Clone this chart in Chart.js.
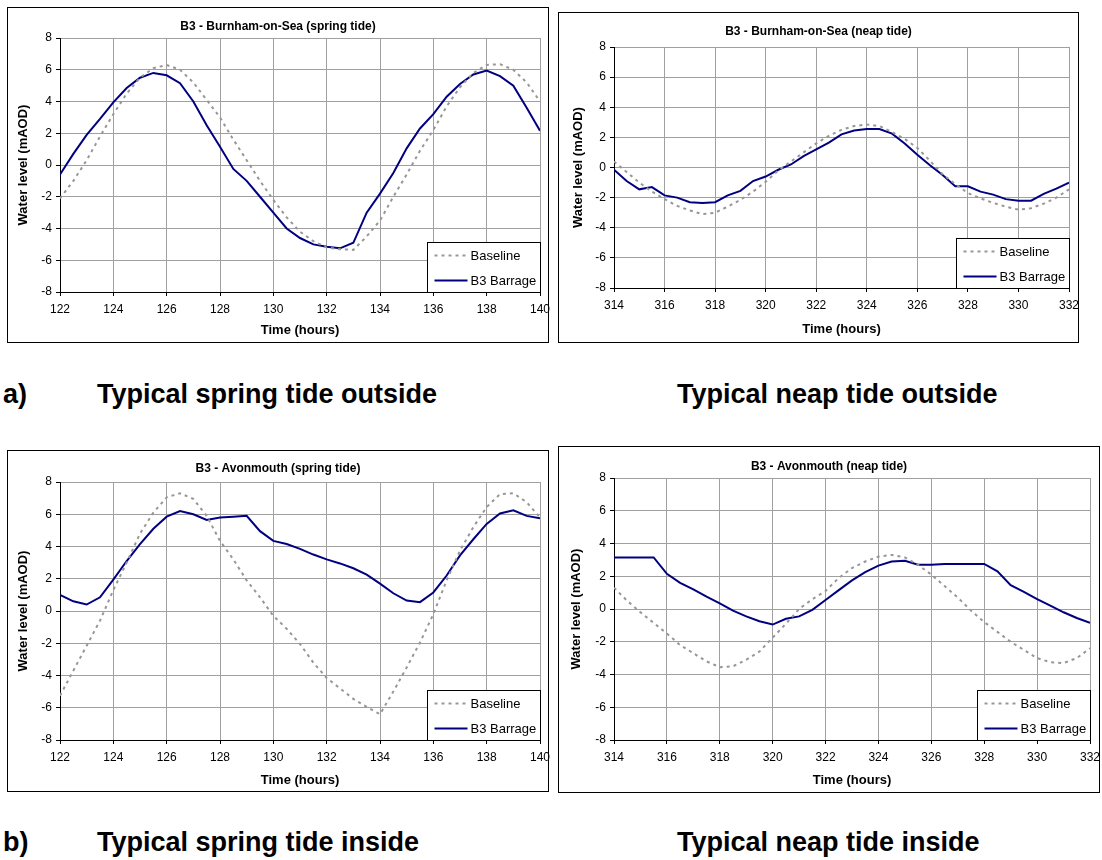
<!DOCTYPE html>
<html>
<head>
<meta charset="utf-8">
<script src="https://cdn.jsdelivr.net/npm/chart.js@4.4.1/dist/chart.umd.min.js"></script>
<style>
  html, body { margin: 0; padding: 0; background: #fff; }
  #page { position: relative; width: 1102px; height: 860px; background: #fff; overflow: hidden; }
  .box { position: absolute; border: 1px solid #000; box-sizing: border-box; background: #fff; }
  canvas { position: absolute; }
  .cap { position: absolute; font-family: "Liberation Sans", Arial, sans-serif; font-weight: bold; font-size: 27px; line-height: 27px; color: #000; white-space: nowrap; }
</style>
</head>
<body>
<div id="page">
  <div class="cap" style="left:3px;top:381px;">a)</div>
  <div class="cap" style="left:97px;top:381px;">Typical spring tide outside</div>
  <div class="cap" style="left:677px;top:381px;">Typical neap tide outside</div>
  <div class="cap" style="left:3px;top:829px;">b)</div>
  <div class="cap" style="left:97px;top:829px;">Typical spring tide inside</div>
  <div class="cap" style="left:677px;top:829px;">Typical neap tide inside</div>
</div>
<script>
// ---------------- DATA ----------------
const springHours = [122,122.5,123,123.5,124,124.5,125,125.5,126,126.5,127,127.5,128,128.5,129,129.5,130,130.5,131,131.5,132,132.5,133,133.5,134,134.5,135,135.5,136,136.5,137,137.5,138,138.5,139,139.5,140];
const neapHours = [314,314.5,315,315.5,316,316.5,317,317.5,318,318.5,319,319.5,320,320.5,321,321.5,322,322.5,323,323.5,324,324.5,325,325.5,326,326.5,327,327.5,328,328.5,329,329.5,330,330.5,331,331.5,332];

const springTicks = [122,124,126,128,130,132,134,136,138,140];
const neapTicks = [314,316,318,320,322,324,326,328,330,332];
const levelTicks = [-8,-6,-4,-2,0,2,4,6,8];

const seriesNames = ["Baseline", "B3 Barrage"];

const burnSpringBaseline = [-2.1,-1.0,0.3,1.8,3.2,4.5,5.5,6.1,6.3,6.0,5.2,4.1,3.0,1.6,0.3,-1.0,-2.2,-3.3,-4.2,-4.8,-5.2,-5.3,-5.35,-4.5,-3.5,-2.0,-0.6,0.9,2.2,3.7,4.9,5.8,6.3,6.35,6.0,5.2,4.0];
const burnSpringBarrage  = [-0.6,0.7,1.9,2.9,3.95,4.85,5.5,5.8,5.65,5.15,4.0,2.5,1.15,-0.25,-1.0,-2.0,-3.0,-4.0,-4.6,-5.0,-5.15,-5.25,-4.9,-3.0,-1.8,-0.5,1.05,2.3,3.2,4.3,5.1,5.7,5.95,5.6,5.0,3.6,2.15];

const burnNeapBaseline = [0.4,-0.3,-1.0,-1.6,-2.1,-2.55,-2.85,-3.1,-3.0,-2.6,-2.15,-1.6,-0.95,-0.2,0.4,1.0,1.6,2.1,2.5,2.75,2.85,2.75,2.35,1.9,1.3,0.45,-0.45,-1.1,-1.7,-2.05,-2.35,-2.6,-2.8,-2.7,-2.4,-2.0,-1.45];
const burnNeapBarrage  = [-0.15,-0.9,-1.45,-1.3,-1.85,-2.0,-2.3,-2.35,-2.3,-1.85,-1.55,-0.9,-0.6,-0.15,0.2,0.75,1.2,1.65,2.2,2.45,2.55,2.55,2.25,1.6,0.85,0.15,-0.5,-1.25,-1.25,-1.6,-1.8,-2.1,-2.2,-2.2,-1.75,-1.4,-1.0];

const avonSpringBaseline = [-5.25,-3.7,-2.15,-0.6,1.3,3.0,4.8,6.1,7.05,7.3,6.95,5.9,4.35,3.2,1.9,0.85,-0.3,-1.1,-2.05,-3.2,-4.15,-4.8,-5.45,-5.95,-6.4,-5.0,-3.5,-1.95,-0.2,1.9,3.75,5.2,6.45,7.25,7.3,6.75,5.8];
const avonSpringBarrage  = [1.0,0.6,0.4,0.85,1.95,3.1,4.15,5.1,5.85,6.2,6.0,5.65,5.8,5.85,5.9,4.95,4.35,4.15,3.85,3.5,3.2,2.95,2.65,2.25,1.7,1.1,0.65,0.55,1.15,2.2,3.45,4.45,5.4,6.05,6.25,5.9,5.75];

const avonNeapBaseline = [1.3,0.5,-0.2,-0.85,-1.5,-2.2,-2.7,-3.2,-3.55,-3.5,-3.1,-2.6,-1.75,-0.9,0.0,0.6,1.1,1.9,2.5,2.9,3.2,3.3,3.15,2.7,2.1,1.4,0.7,-0.1,-0.8,-1.4,-2.0,-2.5,-3.0,-3.25,-3.3,-3.0,-2.4];
const avonNeapBarrage  = [3.15,3.15,3.15,3.15,2.15,1.6,1.2,0.75,0.35,-0.1,-0.45,-0.75,-0.95,-0.6,-0.45,-0.05,0.55,1.15,1.75,2.25,2.65,2.9,2.95,2.7,2.7,2.75,2.75,2.75,2.75,2.3,1.45,1.05,0.6,0.2,-0.2,-0.55,-0.85];

const chartTitles = [
  "B3 - Burnham-on-Sea (spring tide)",
  "B3 - Burnham-on-Sea (neap tide)",
  "B3 - Avonmouth (spring tide)",
  "B3 - Avonmouth (neap tide)"
];
const xAxisTitle = "Time (hours)";
const yAxisTitle = "Water level (mAOD)";

// ---------------- LAYOUT / STYLE ----------------
const FONT = '"Liberation Sans", Arial, Helvetica, sans-serif';
const panels = [
  { box:{x:7,  y:7,   w:542, h:336}, plot:{l:60,  t:38,  r:540,  b:292}, titleY:27,  xTitleY:330, yTitleX:23,
    hours:springHours, ticks:springTicks, base:burnSpringBaseline, bar:burnSpringBarrage, title:chartTitles[0] },
  { box:{x:558,y:12,  w:521, h:331}, plot:{l:614, t:47,  r:1069, b:288}, titleY:32,  xTitleY:329, yTitleX:578,
    hours:neapHours, ticks:neapTicks, base:burnNeapBaseline, bar:burnNeapBarrage, title:chartTitles[1] },
  { box:{x:7,  y:450, w:542, h:342}, plot:{l:60,  t:482, r:540,  b:740}, titleY:469, xTitleY:780, yTitleX:23,
    hours:springHours, ticks:springTicks, base:avonSpringBaseline, bar:avonSpringBarrage, title:chartTitles[2] },
  { box:{x:558,y:446, w:542, h:347}, plot:{l:614, t:478, r:1090, b:740}, titleY:467, xTitleY:780, yTitleX:576,
    hours:neapHours, ticks:neapTicks, base:avonNeapBaseline, bar:avonNeapBarrage, title:chartTitles[3] }
];

const page = document.getElementById('page');

const overlayPlugin = {
  id: 'overlay',
  afterDraw(chart, args, opts) {
    const ctx = chart.ctx;
    const area = chart.chartArea;
    ctx.save();
    ctx.fillStyle = '#000';
    ctx.font = 'bold 12px ' + FONT;
    ctx.textAlign = 'center';
    ctx.textBaseline = 'middle';
    ctx.fillText(opts.title, opts.titleCx, opts.titleCy);
    const lw = 113, lh = 50;
    const lx = Math.round(area.right - lw) + 0.5, ly = Math.round(area.bottom - lh) + 0.5;
    ctx.fillStyle = '#fff';
    ctx.fillRect(lx, ly, lw, lh);
    ctx.strokeStyle = '#000';
    ctx.lineWidth = 1;
    ctx.strokeRect(lx, ly, lw, lh);
    ctx.font = '13px ' + FONT;
    ctx.textAlign = 'left';
    chart.data.datasets.forEach((ds, i) => {
      const yy = ly + 13 + i * 25;
      ctx.beginPath();
      ctx.setLineDash(ds.borderDash || []);
      ctx.strokeStyle = ds.borderColor;
      ctx.lineWidth = ds.borderWidth;
      ctx.moveTo(lx + 7, yy);
      ctx.lineTo(lx + 40, yy);
      ctx.stroke();
      ctx.setLineDash([]);
      ctx.fillStyle = '#000';
      ctx.fillText(ds.label, lx + 43, yy + 0.5);
    });
    ctx.restore();
  }
};

panels.forEach((p, idx) => {
  const box = document.createElement('div');
  box.className = 'box';
  box.style.left = p.box.x + 'px';
  box.style.top = p.box.y + 'px';
  box.style.width = p.box.w + 'px';
  box.style.height = p.box.h + 'px';
  page.appendChild(box);

  const cw = p.box.w + 20, ch = p.box.h + 12;
  const cv = document.createElement('canvas');
  cv.width = cw; cv.height = ch;
  cv.style.left = p.box.x + 'px';
  cv.style.top = p.box.y + 'px';
  cv.style.width = cw + 'px';
  cv.style.height = ch + 'px';
  page.appendChild(cv);

  const pl = p.plot.l - p.box.x, pt = p.plot.t - p.box.y, pr = p.plot.r - p.box.x, pb = p.plot.b - p.box.y;
  const titleLH = 13 * 1.2;
  const padLeft = (p.yTitleX - p.box.x) - titleLH / 2;
  const yWidth = pl - padLeft;
  const xHeight = (p.xTitleY - p.box.y) + titleLH / 2 - pb;
  const padBottom = ch - (pb + xHeight);

  const baseData = p.hours.map((h, i) => ({x: h, y: p.base[i]}));
  const barData = p.hours.map((h, i) => ({x: h, y: p.bar[i]}));

  new Chart(cv.getContext('2d'), {
    type: 'line',
    data: {
      datasets: [
        { label: seriesNames[0], data: baseData, borderColor: '#979797', borderWidth: 2, borderDash: [3, 4],
          pointRadius: 0, fill: false, tension: 0 },
        { label: seriesNames[1], data: barData, borderColor: '#000080', borderWidth: 2,
          pointRadius: 0, fill: false, tension: 0 }
      ]
    },
    options: {
      responsive: false,
      animation: false,
      devicePixelRatio: 1,
      layout: { padding: { left: padLeft, top: pt, right: cw - pr, bottom: padBottom } },
      plugins: {
        legend: { display: false },
        tooltip: { enabled: false },
        overlay: { title: p.title, titleCx: p.box.w / 2, titleCy: p.titleY - p.box.y }
      },
      scales: {
        x: {
          type: 'linear',
          min: p.ticks[0], max: p.ticks[p.ticks.length - 1],
          afterBuildTicks(s) { s.ticks = p.ticks.map(v => ({value: v})); },
          ticks: { color: '#000', font: { family: FONT, size: 12 }, padding: 6, maxRotation: 0, autoSkip: false },
          grid: { color: '#a0a0a0', lineWidth: 1, tickLength: 4, tickColor: '#000' },
          border: { color: '#000', width: 1 },
          title: { display: true, text: xAxisTitle, color: '#000', font: { family: FONT, size: 13, weight: 'bold' }, padding: 0 },
          afterFit(s) { s.height = xHeight; s.paddingLeft = 0; s.paddingRight = 0; }
        },
        y: {
          type: 'linear',
          min: levelTicks[0], max: levelTicks[levelTicks.length - 1],
          afterBuildTicks(s) { s.ticks = levelTicks.map(v => ({value: v})); },
          ticks: { color: '#000', font: { family: FONT, size: 12 }, padding: 4 },
          grid: { color: '#a0a0a0', lineWidth: 1, tickLength: 4, tickColor: '#000' },
          border: { color: '#000', width: 1 },
          title: { display: true, text: yAxisTitle, color: '#000', font: { family: FONT, size: 13, weight: 'bold' }, padding: 0 },
          afterFit(s) { s.width = yWidth; s.paddingTop = 0; s.paddingBottom = 0; }
        }
      }
    },
    plugins: [overlayPlugin]
  });
});
</script>
</body>
</html>
